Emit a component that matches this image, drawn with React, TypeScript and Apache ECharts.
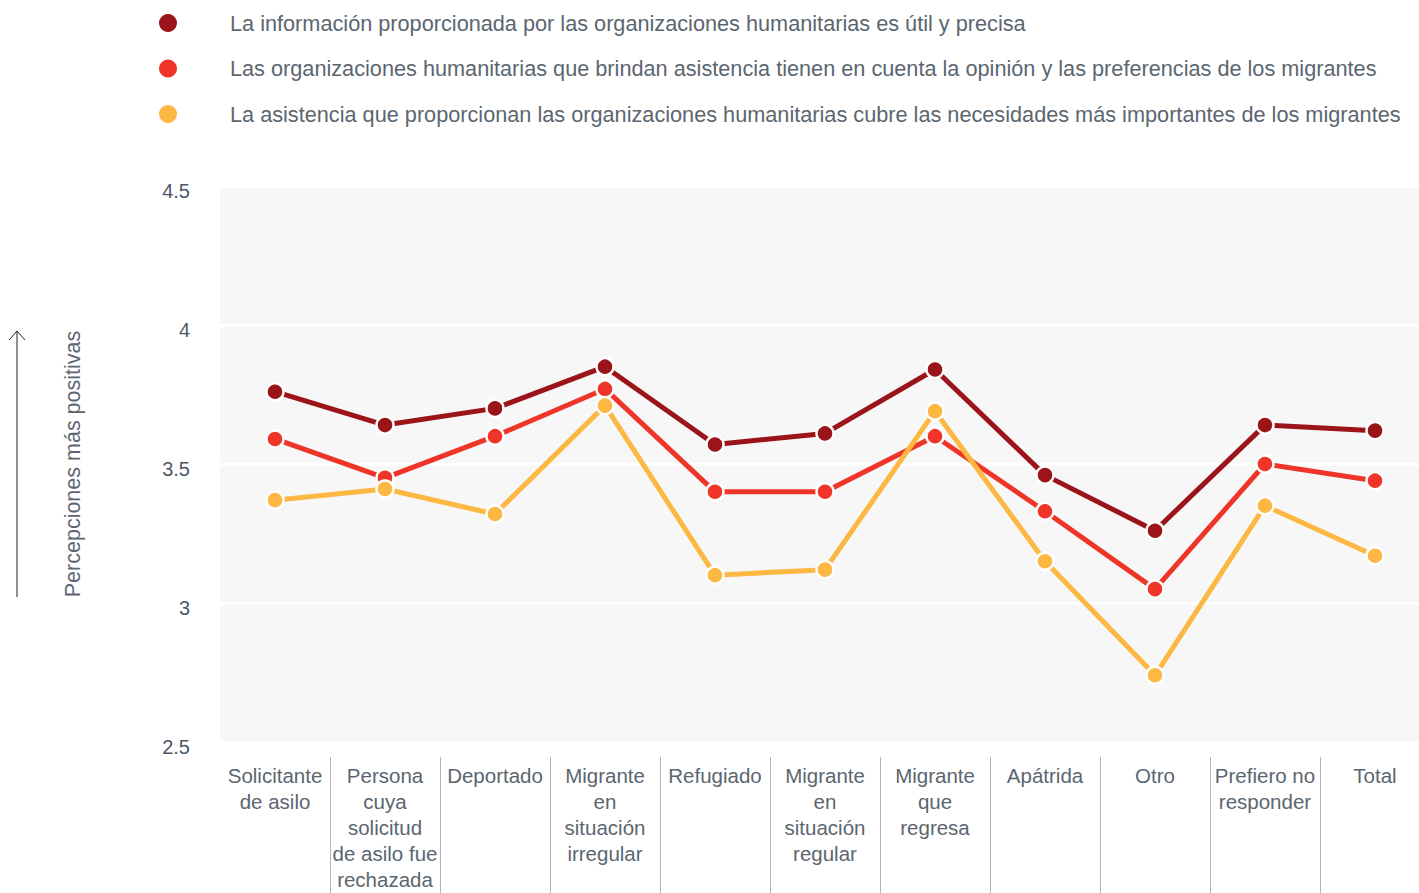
import React, { useEffect, useRef } from "react";
import * as echarts from "echarts";

const categories = [
  "Solicitante\nde asilo",
  "Persona\ncuya\nsolicitud\nde asilo fue\nrechazada",
  "Deportado",
  "Migrante\nen\nsituación\nirregular",
  "Refugiado",
  "Migrante\nen\nsituación\nregular",
  "Migrante\nque\nregresa",
  "Apátrida",
  "Otro",
  "Prefiero no\nresponder",
  "Total",
];

const seriesNames = [
  "La información proporcionada por las organizaciones humanitarias es útil y precisa",
  "Las organizaciones humanitarias que brindan asistencia tienen en cuenta la opinión y las preferencias de los migrantes",
  "La asistencia que proporcionan las organizaciones humanitarias cubre las necesidades más importantes de los migrantes",
];

const infoUtil = [3.76, 3.64, 3.7, 3.85, 3.57, 3.61, 3.84, 3.46, 3.26, 3.64, 3.62];
const opinion = [3.59, 3.45, 3.6, 3.77, 3.4, 3.4, 3.6, 3.33, 3.05, 3.5, 3.44];
const necesidades = [3.37, 3.41, 3.32, 3.71, 3.1, 3.12, 3.69, 3.15, 2.74, 3.35, 3.17];

const yTicks = { min: 2.5, max: 4.5, interval: 0.5 };
const yName = "Percepciones más positivas";

const colors = ["#9b1419", "#ee3528", "#fdb843"];
const textColor = "#5b6670";
const fontFamily = "'Liberation Sans', Arial, sans-serif";

export default function App() {
  const ref = useRef<HTMLDivElement>(null);

  useEffect(() => {
    if (!ref.current) return;
    const chart = echarts.init(ref.current, undefined, { renderer: "svg" });
    const data = [infoUtil, opinion, necesidades];
    chart.setOption({
      animation: false,
      textStyle: { fontFamily },
      legend: {
        orient: "vertical",
        left: 154,
        top: 7,
        itemWidth: 18,
        itemHeight: 18,
        itemGap: 23.5,
        icon: "circle",
        selectedMode: false,
        itemStyle: { borderWidth: 0 },
        textStyle: {
          fontSize: 21.7,
          color: textColor,
          fontFamily,
          padding: [0, 0, 0, 48],
        },
        data: seriesNames,
      },
      grid: {
        left: 220,
        top: 186,
        bottom: 151,
        right: 0,
        show: true,
        backgroundColor: "#f7f7f7",
        borderWidth: 0,
      },
      xAxis: {
        type: "category",
        data: categories,
        boundaryGap: true,
        offset: 15,
        axisLine: { show: false },
        axisTick: {
          show: true,
          length: 140,
          alignWithLabel: false,
          interval: (i: number) => i !== 0,
          lineStyle: { color: "#b5b5b5", width: 1 },
        },
        axisLabel: {
          interval: 0,
          margin: 5,
          fontSize: 20.5,
          lineHeight: 26,
          color: textColor,
          fontFamily,
          align: "center",
          verticalAlign: "top",
        },
      },
      yAxis: {
        type: "value",
        min: yTicks.min,
        max: yTicks.max,
        interval: yTicks.interval,
        name: yName,
        nameLocation: "middle",
        nameGap: 136,
        nameRotate: 90,
        nameTextStyle: { fontSize: 21.5, color: textColor, fontFamily },
        axisLine: { show: false },
        axisTick: { show: false },
        axisLabel: {
          fontSize: 20,
          color: "#4d5868",
          margin: 30,
          fontFamily,
          verticalAlign: "top",
          lineHeight: 9,
        },
        splitLine: { show: true, lineStyle: { color: "#ffffff", width: 3 } },
      },
      graphic: [
        {
          type: "line",
          shape: { x1: 17, y1: 597, x2: 17, y2: 332 },
          style: { stroke: "#222", lineWidth: 1 },
        },
        {
          type: "polyline",
          shape: { points: [[9, 340], [17, 331], [25, 340]] },
          style: { stroke: "#222", lineWidth: 1, fill: null },
        },
      ],
      series: data.map((d, i) => ({
        name: seriesNames[i],
        type: "line",
        data: d,
        symbol: "circle",
        symbolSize: 17,
        lineStyle: { color: colors[i], width: 5 },
        itemStyle: { color: colors[i], borderColor: "#ffffff", borderWidth: 2.5 },
        emphasis: { disabled: true },
        z: 2 + i,
      })),
    });
    return () => chart.dispose();
  }, []);

  return (
    <div
      style={{
        position: "absolute",
        left: 0,
        top: 0,
        width: 1419,
        height: 893,
        overflow: "hidden",
      }}
    >
      <div ref={ref} style={{ width: 1430, height: 893 }} />
    </div>
  );
}
